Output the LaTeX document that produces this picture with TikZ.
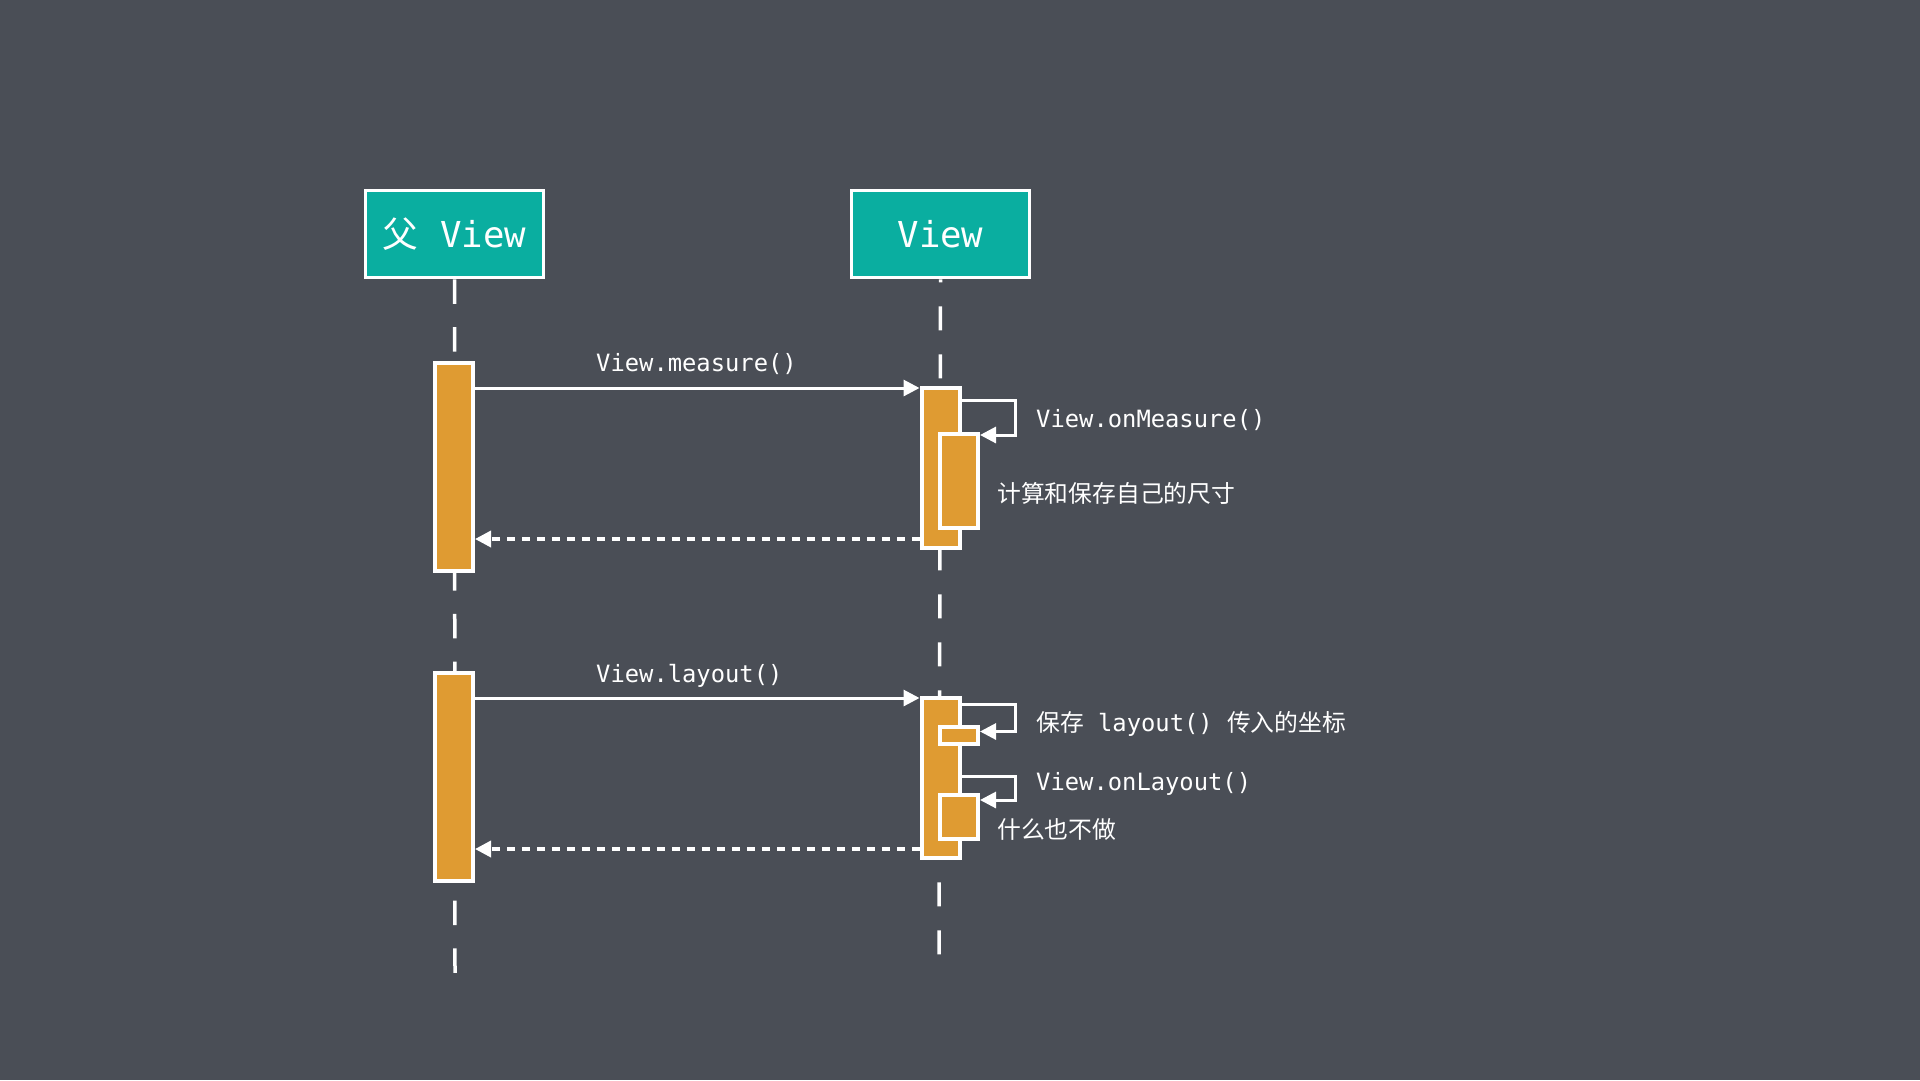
\documentclass[tikz,border=0pt]{standalone}
\usepackage{fontspec}
\setmonofont{DejaVu Sans Mono}
\newfontfamily\cjk{Noto Sans CJK SC}
\usepackage{xcolor}
\usetikzlibrary{arrows.meta}
\definecolor{bg}{HTML}{4A4E56}
\definecolor{headfill}{HTML}{0AAEA0}
\definecolor{actfill}{HTML}{DF9B32}
\tikzset{
  head/.style={draw=white, fill=headfill, line width=3.5pt, minimum width=178pt,
    minimum height=87pt, inner sep=0pt, text=white,
    font=\ttfamily\fontsize{35.7}{40}\selectfont},
  act/.style={draw=white, fill=actfill, line width=4pt, minimum width=38pt, inner sep=0pt},
  life/.style={draw=white, line width=3.5pt},
  call/.style={draw=white, line width=3pt, -{Triangle[length=16pt,width=16pt]}},
  reply/.style={call, line width=3.5pt, dash pattern=on 8pt off 7pt},
  msg/.style={text=white, inner sep=0pt, font=\ttfamily\fontsize{23.8}{28}\selectfont},
}

\begin{document}
\begin{tikzpicture}[x=1pt,y=-1pt]
  \fill[bg] (0,0) rectangle (1920,1080);
  \useasboundingbox (0,0) rectangle (1920,1080);

  \node[head] (parent) at (454.5,234) {{\cjk 父} View};
  \node[head] (child) at (940.5,234) {View};

  \coordinate (parentEnd) at (455,973);  % end of parent lifeline
  \coordinate (childEnd) at (939,955);   % end of child lifeline

  \draw[life, dash pattern=on 24.5pt off 23.3pt] (parent.south) -- (parentEnd);
  \draw[life, dash pattern=on 24pt off 24pt, dash phase=21pt] (child.south) -- (childEnd);

  % measure pass
  \node[act, minimum height=208pt] (pMeasure) at (454,467) {};
  \node[act, minimum height=160pt] (cMeasure) at (940.5,468) {};
  \node[act, minimum height=94pt] (onMeasure) at (959,481) {};

  \coordinate (mCall) at ([yshift=-2pt]cMeasure.north west);
  \coordinate (mRet) at ([yshift=11pt]cMeasure.south west);
  \draw[call] (pMeasure.east |- mCall) -- (mCall);
  \draw[reply] (mRet) -- (pMeasure.east |- mRet);
  \draw[call] ([yshift=-14pt]cMeasure.north east) -- ++(54,0) |- ([yshift=-3pt]onMeasure.north east);

  \node[msg, anchor=west] (measureLbl) at (596,364) {View.measure()};
  \node[msg, anchor=west] (onMeasureLbl) at (1036,420) {View.onMeasure()};
  \node[msg, anchor=west] (sizeLbl) at (997,493) {\cjk 计算和保存自己的尺寸};

  % layout pass
  \node[act, minimum height=208pt] (pLayout) at (454,777) {};
  \node[act, minimum height=160pt] (cLayout) at (940.5,778) {};
  \node[act, minimum height=17pt] (savePos) at (959,735.5) {};
  \node[act, minimum height=44pt] (onLayout) at (959,817) {};

  \coordinate (lCall) at ([yshift=-2pt]cLayout.north west);
  \coordinate (lRet) at ([yshift=11pt]cLayout.south west);
  \draw[call] (pLayout.east |- lCall) -- (lCall);
  \draw[reply] (lRet) -- (pLayout.east |- lRet);
  \draw[call] ([yshift=-8pt]cLayout.north east) -- ++(54,0) |- ([yshift=4pt]savePos.east);
  \draw[call] ([yshift=-80pt]cLayout.north east) -- ++(54,0) |- ([yshift=-7pt]onLayout.north east);

  \node[msg, anchor=west] (layoutLbl) at (596,676) {View.layout()};
  \node[msg, anchor=west] (savePosLbl) at (1036,724) {{\cjk 保存} layout() {\cjk 传入的坐标}};
  \node[msg, anchor=west] (onLayoutLbl) at (1036,784) {View.onLayout()};
  \node[msg, anchor=west] (nothingLbl) at (997,829) {\cjk 什么也不做};
\end{tikzpicture}
\end{document}
